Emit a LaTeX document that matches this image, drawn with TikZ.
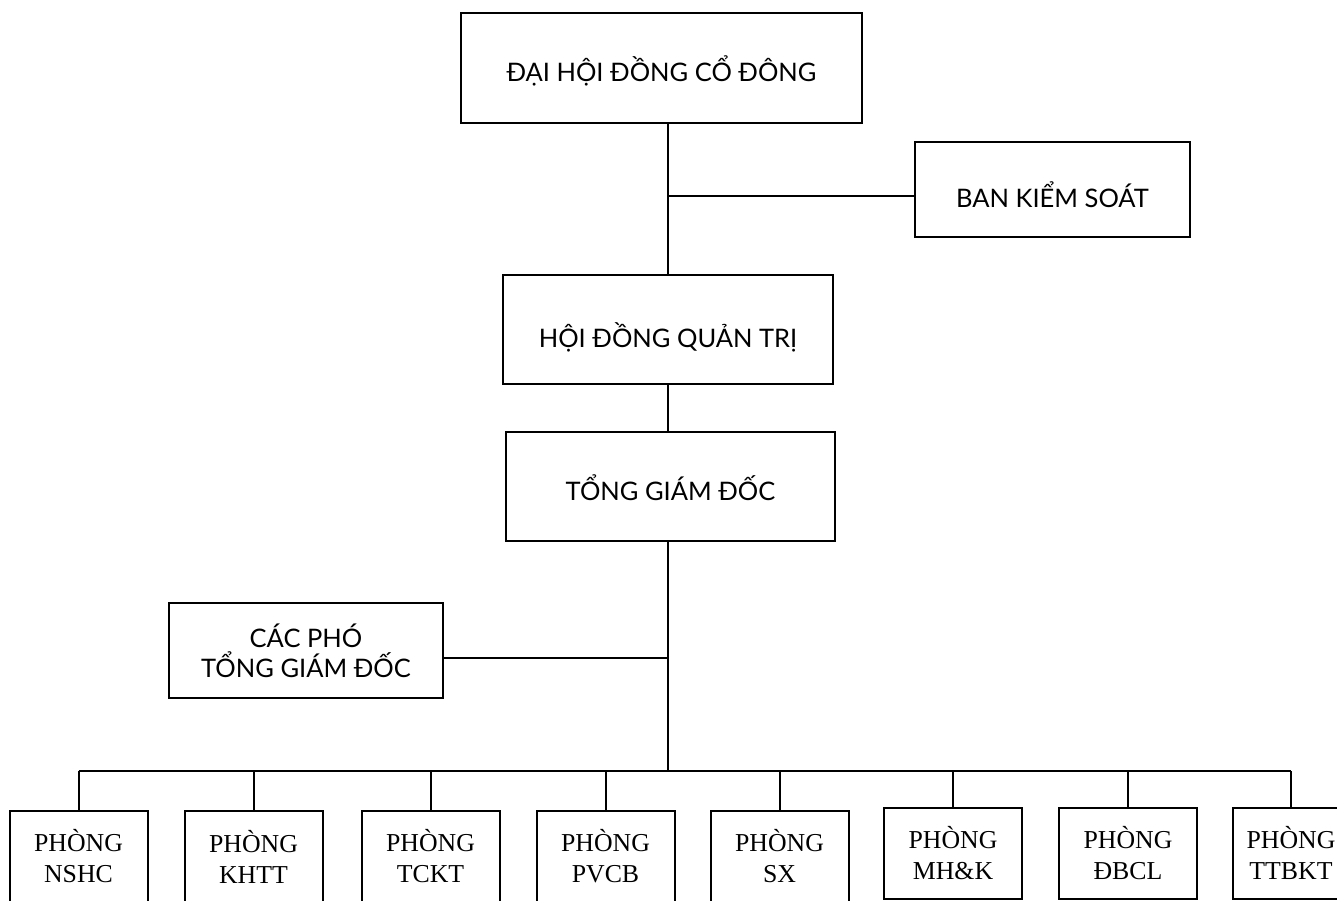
\documentclass[tikz,border=0pt]{standalone}
\usepackage{fontspec}
\setmainfont{Liberation Serif}
\newfontfamily\boardfont{Lato}
\usetikzlibrary{calc}

\begin{document}
\begin{tikzpicture}[x=1pt,y=-1pt,
  line width=2pt,
  board/.style={draw, align=center, inner sep=0pt,
    font=\boardfont\fontsize{25.5}{30}\selectfont},
  lowtext/.style={text height=#1, text depth=0pt},
  dept/.style={draw, align=center, inner sep=0pt,
    minimum width=138pt, minimum height=91pt,
    font=\fontsize{25.8}{31}\selectfont}]
\useasboundingbox (0,0) rectangle (1337,901);
\clip (0,0) rectangle (1337,901);
% Top level
\node[board, lowtext=28pt, minimum width=401pt, minimum height=110pt] (dhdcd) at (661.5,68) {ĐẠI HỘI ĐỒNG CỔ ĐÔNG};
\node[board, lowtext=36pt, minimum width=275pt, minimum height=95pt] (bks) at (1052.5,189.5) {BAN KIỂM SOÁT};
\node[board, lowtext=36pt, minimum width=330pt, minimum height=109pt] (hdqt) at (668,329.5) {HỘI ĐỒNG QUẢN TRỊ};
\node[board, lowtext=28pt, minimum width=329pt, minimum height=109pt] (tgd) at (670.5,486.5) {TỔNG GIÁM ĐỐC};
\node[board, minimum width=274pt, minimum height=95pt] (pho) at (306,650.5) {CÁC PHÓ\\TỔNG GIÁM ĐỐC};
% Departments
\node[dept] (nshc) at (78.5,856.5) {PHÒNG\\NSHC};
\node[dept] (khtt) at (253.5,856.5) {PHÒNG\\KHTT};
\node[dept] (tckt) at (430.5,856.5) {PHÒNG\\TCKT};
\node[dept] (pvcb) at (605.5,856.5) {PHÒNG\\PVCB};
\node[dept] (sx) at (779.5,856.5) {PHÒNG\\SX};
\node[dept] (mhk) at (953,853) {PHÒNG\\MH\&K};
\node[dept] (dbcl) at (1128,853) {PHÒNG\\ĐBCL};
\node[dept, minimum width=116pt] (ttbkt) at (1291,853) {PHÒNG\\TTBKT};
% Links
\coordinate (bus) at (668,771);
\draw (hdqt.north |- dhdcd.south) -- (hdqt.north);
\draw ($(bks.west)+(0,7)$) -| (hdqt.north);
\draw (hdqt.south) -- (hdqt.south |- tgd.north);
\draw (bus |- tgd.south) -- (bus);
\draw ($(pho.east)+(0,7)$) -| (bus);
\draw (nshc.north |- bus) -- (ttbkt.north |- bus);
\foreach \d in {nshc,khtt,tckt,pvcb,sx,mhk,dbcl,ttbkt}
  \draw (\d.north) -- (\d.north |- bus);
\end{tikzpicture}
\end{document}
